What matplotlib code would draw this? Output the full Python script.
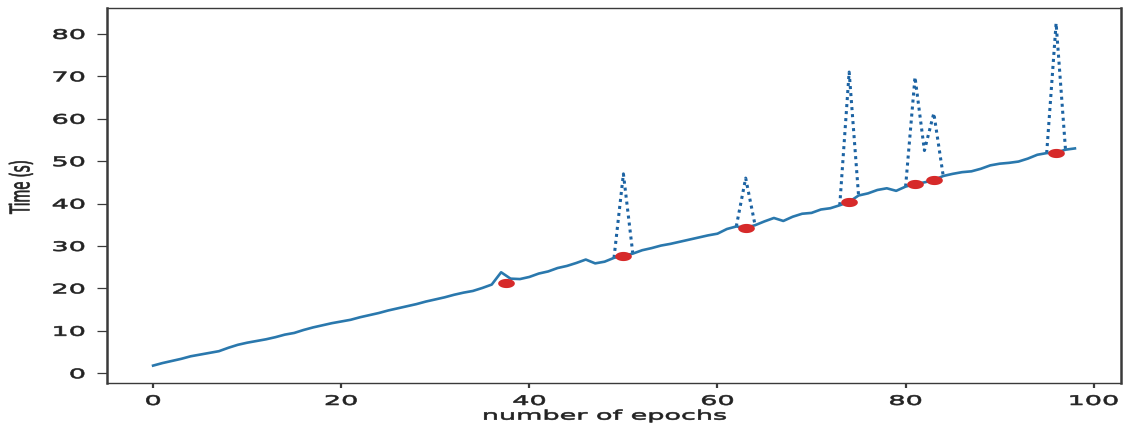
import numpy as np
import matplotlib
matplotlib.use("Agg")
import matplotlib.pyplot as plt
from matplotlib.patheffects import AbstractPathEffect
from matplotlib.transforms import Affine2D
from matplotlib.path import Path

# ---------------- data ----------------
epochs = list(range(99))
time_raw = [
    1.8, 2.4, 2.9, 3.4, 4.0, 4.4, 4.8, 5.2, 6.0, 6.7,
    7.2, 7.6, 8.0, 8.5, 9.1, 9.5, 10.2, 10.8, 11.3, 11.8,
    12.2, 12.6, 13.2, 13.7, 14.2, 14.8, 15.3, 15.8, 16.3, 16.9,
    17.4, 17.9, 18.5, 19.0, 19.4, 20.1, 20.9, 23.8, 22.3, 22.2,
    22.7, 23.5, 24.0, 24.8, 25.3, 26.0, 26.8, 25.9, 26.3, 27.2,
    47.0, 28.2, 29.0, 29.5, 30.1, 30.5, 31.0, 31.5, 32.0, 32.5,
    32.9, 34.0, 34.6, 46.0, 34.9, 35.8, 36.6, 35.9, 36.9, 37.6,
    37.8, 38.6, 38.9, 39.6, 71.0, 41.9, 42.4, 43.2, 43.6, 43.0,
    44.0, 69.8, 52.5, 61.3, 46.5, 47.0, 47.4, 47.6, 48.2, 49.0,
    49.4, 49.6, 49.9, 50.6, 51.5, 51.9, 82.5, 52.7, 53.0,
]
spike_epochs = [50, 63, 74, 81, 82, 83, 96]
spike_fill = [27.7, 34.3, 40.4, 44.6, 45.0, 45.5, 52.0]
marker_epochs = [37.5, 50, 63, 74, 81, 83, 96]
marker_values = [21.3, 27.7, 34.3, 40.4, 44.6, 45.5, 52.0]
xticks = [0, 20, 40, 60, 80, 100]
yticks = [0, 10, 20, 30, 40, 50, 60, 70, 80]

# derived series
raw = np.array(time_raw, dtype=float)
corrected = raw.copy()
for e, v in zip(spike_epochs, spike_fill):
    corrected[e] = v
near_spike = np.zeros(len(raw), dtype=bool)
for e in spike_epochs:
    near_spike[max(e - 1, 0):e + 2] = True
dotted = np.where(near_spike, raw, np.nan)


# horizontal stretch of text (the reference image is stretched sideways)
class HStretch(AbstractPathEffect):
    def __init__(self, sx, anchor="center", stroke=0.45):
        super().__init__()
        self.sx = sx
        self.anchor = anchor
        self.stroke = stroke

    def draw_path(self, renderer, gc, tpath, affine, rgbFace=None):
        ext = tpath.get_extents(affine)
        if self.anchor == "right":
            cx = ext.x1
        elif self.anchor == "left":
            cx = ext.x0
        else:
            cx = 0.5 * (ext.x0 + ext.x1)
        t = affine + Affine2D().translate(-cx, 0).scale(self.sx, 1.0).translate(cx, 0)
        gc0 = renderer.new_gc()
        gc0.copy_properties(gc)
        gc0.set_linewidth(self.stroke)
        if rgbFace is not None:
            gc0.set_foreground(rgbFace)
        renderer.draw_path(gc0, tpath, t, rgbFace)
        gc0.restore()


# ellipse marker (circle stretched sideways)
theta = np.linspace(0, 2 * np.pi, 60)
ellipse = Path(np.column_stack([np.cos(theta), 0.55 * np.sin(theta)]), closed=True)

fig = plt.figure(figsize=(11.24, 4.30), dpi=100)
ax = fig.add_axes([107 / 1124, 1 - 383 / 430, (1121 - 107) / 1124, (383 - 8) / 430])

ax.plot(epochs, dotted, linestyle=(0, (1, 1.3)), color="#1c63a3", lw=2.2, zorder=2)
ax.plot(epochs, corrected, linestyle="-", color="#2a78ad", lw=1.9, zorder=3)
ax.plot(marker_epochs, marker_values, linestyle="none", marker=ellipse,
        markersize=12, color="#d62a2a", markeredgewidth=0, zorder=4)

ax.set_xlim(-4.9, 102.9)
ax.set_ylim(-2.3, 86.1)
ax.set_xticks(xticks)
ax.set_yticks(yticks)

TXT = "#222222"
SP = "#3a3a3a"
for side in ("left", "right"):
    ax.spines[side].set_linewidth(1.8)
    ax.spines[side].set_color(SP)
for side in ("top", "bottom"):
    ax.spines[side].set_linewidth(1.0)
    ax.spines[side].set_color(SP)

ax.tick_params(axis="x", length=3.6, width=1.6, pad=5, labelsize=9.5,
               color=SP, labelcolor=TXT)
ax.tick_params(axis="y", length=7.2, width=0.9, pad=8.6, labelsize=9.5,
               color=SP, labelcolor=TXT)

ax.set_xlabel("number of epochs", fontsize=9.5, color=TXT, va="top")
ax.xaxis.set_label_coords(0.4916, -0.071)
ax.set_ylabel("Time (s)", fontsize=9.5, color=TXT, ha="center", va="center")
ax.yaxis.set_label_coords(-0.0843, 0.523)

SX = 2.05
for t in ax.xaxis.get_major_ticks():
    t.label1.set_path_effects([HStretch(SX, "center")])
for t in ax.yaxis.get_major_ticks():
    t.label1.set_path_effects([HStretch(SX, "right")])
ax.xaxis.label.set_path_effects([HStretch(SX, "center")])
ax.yaxis.label.set_path_effects([HStretch(SX, "center")])

fig.savefig("out.png", dpi=100, facecolor="white")
